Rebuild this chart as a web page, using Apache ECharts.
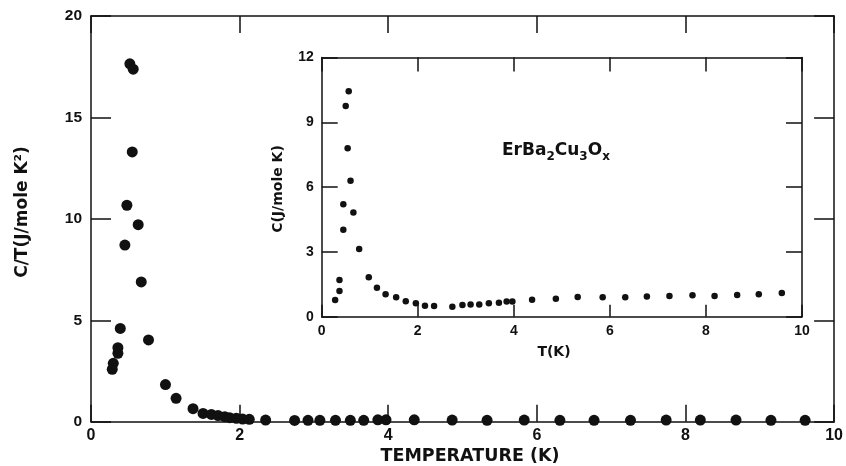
<!DOCTYPE html>
<html>
<head>
<meta charset="utf-8">
<script src="https://cdn.jsdelivr.net/npm/echarts@6/dist/echarts.min.js"></script>
<style>html,body{margin:0;padding:0;background:#fff}#c{width:846px;height:466px}</style>
</head>
<body>
<div id="c"></div>
<script>
// Main plot: C/T vs T
const mainT  = [0.286,0.30,0.362,0.362,0.394,0.456,0.483,0.523,0.555,0.568,0.635,0.676,0.774,1.002,1.145,1.373,1.508,1.62,1.71,1.80,1.866,1.956,2.04,2.13,2.35,2.74,2.92,3.08,3.29,3.49,3.67,3.86,3.97,4.35,4.86,5.33,5.83,6.31,6.77,7.26,7.74,8.20,8.68,9.15,9.61];
const mainCT = [2.58,2.88,3.37,3.65,4.60,8.71,10.67,17.64,13.30,17.38,9.71,6.89,4.03,1.83,1.15,0.64,0.41,0.36,0.30,0.25,0.20,0.17,0.13,0.12,0.08,0.06,0.07,0.07,0.07,0.07,0.07,0.09,0.09,0.09,0.08,0.07,0.08,0.07,0.07,0.07,0.08,0.08,0.08,0.07,0.07];
// Inset: C vs T
const insetT = [0.28,0.37,0.37,0.45,0.45,0.50,0.54,0.5625,0.60,0.66,0.78,0.98,1.15,1.33,1.55,1.75,1.96,2.15,2.34,2.72,2.93,3.10,3.28,3.48,3.69,3.85,3.97,4.38,4.875,5.33,5.85,6.32,6.77,7.24,7.72,8.18,8.65,9.10,9.58];
const insetC = [0.77,1.19,1.70,4.02,5.21,9.75,7.80,10.44,6.29,4.82,3.14,1.83,1.34,1.04,0.90,0.71,0.62,0.51,0.50,0.46,0.54,0.56,0.57,0.62,0.65,0.70,0.70,0.79,0.83,0.91,0.90,0.90,0.93,0.96,0.99,0.96,1.01,1.04,1.10];
const mainXTicks = [0,2,4,6,8,10];
const mainYTicks = [0,5,10,15,20];
const insetXTicks = [0,2,4,6,8,10];
const insetYTicks = [0,3,6,9,12];

const INK = '#111';
const tickFont = "'Liberation Sans', Arial, sans-serif";
const nameFont = "'DejaVu Sans', sans-serif";

function axis(opts) {
  return Object.assign({
    type: 'value',
    axisLine: {show: true, onZero: false, lineStyle: {color: INK, width: 1.5}},
    splitLine: {show: false},
    axisTick: {show: true, inside: true, length: 17, lineStyle: {color: INK, width: 1.5}},
    axisLabel: {show: false}
  }, opts);
}
function lbl(size, margin) {
  return {show: true, color: INK, fontFamily: tickFont, fontWeight: 'bold', fontSize: size, margin: margin, showMinLabel: true, showMaxLabel: true};
}

const chart = echarts.init(document.getElementById('c'), null, {renderer: 'canvas'});
chart.setOption({
  backgroundColor: '#fff',
  animation: false,
  grid: [
    {left: 91, top: 16, width: 745, height: 405.7},
    {left: 321.7, top: 57.5, width: 480.3, height: 259.2}
  ],
  xAxis: [
    axis({gridIndex: 0, position: 'bottom', min: mainXTicks[0], max: mainXTicks[mainXTicks.length-1], interval: 2, axisLabel: lbl(16, 6)}),
    axis({gridIndex: 0, position: 'top', min: 0, max: 10, interval: 2}),
    axis({gridIndex: 1, position: 'bottom', min: insetXTicks[0], max: insetXTicks[insetXTicks.length-1], interval: 2, axisLabel: lbl(14, 7),
          axisTick: {show: true, inside: true, length: 12, lineStyle: {color: INK, width: 1.5}}}),
    axis({gridIndex: 1, position: 'top', min: 0, max: 10, interval: 2,
          axisTick: {show: true, inside: true, length: 14, lineStyle: {color: INK, width: 1.5}}})
  ],
  yAxis: [
    axis({gridIndex: 0, position: 'left', min: mainYTicks[0], max: mainYTicks[mainYTicks.length-1], interval: 5, axisLabel: lbl(15.5, 9),
          axisTick: {show: true, inside: true, length: 20, lineStyle: {color: INK, width: 1.5}}}),
    axis({gridIndex: 0, position: 'right', min: 0, max: 20, interval: 5,
          axisTick: {show: true, inside: true, length: 20, lineStyle: {color: INK, width: 1.5}}}),
    axis({gridIndex: 1, position: 'left', min: insetYTicks[0], max: insetYTicks[insetYTicks.length-1], interval: 3, axisLabel: lbl(14, 8),
          axisTick: {show: true, inside: true, length: 16, lineStyle: {color: INK, width: 1.5}}}),
    axis({gridIndex: 1, position: 'right', min: 0, max: 12, interval: 3,
          axisTick: {show: true, inside: true, length: 16, lineStyle: {color: INK, width: 1.5}}})
  ],
  series: [
    {type: 'scatter', xAxisIndex: 0, yAxisIndex: 0, clip: false, symbol: 'circle', symbolSize: 11,
     itemStyle: {color: INK, opacity: 1}, data: mainT.map((t, i) => [t, mainCT[i]])},
    {type: 'scatter', xAxisIndex: 2, yAxisIndex: 2, clip: false, symbol: 'circle', symbolSize: 6.5,
     itemStyle: {color: INK, opacity: 1}, data: insetT.map((t, i) => [t, insetC[i]])}
  ],
  graphic: [
    {type: 'text', x: 23, y: 212, rotation: Math.PI / 2,
     style: {text: 'C/T(J/mole K²)', fill: INK, fontFamily: nameFont, fontWeight: 'bold', fontSize: 17, align: 'center', verticalAlign: 'middle'}},
    {type: 'text', x: 470, y: 456,
     style: {text: 'TEMPERATURE (K)', fill: INK, fontFamily: nameFont, fontWeight: 'bold', fontSize: 17.5, align: 'center', verticalAlign: 'middle'}},
    {type: 'text', x: 278, y: 189, rotation: Math.PI / 2,
     style: {text: 'C(J/mole K)', fill: INK, fontFamily: nameFont, fontWeight: 'bold', fontSize: 14, align: 'center', verticalAlign: 'middle'}},
    {type: 'text', x: 554, y: 352,
     style: {text: 'T(K)', fill: INK, fontFamily: nameFont, fontWeight: 'bold', fontSize: 14, align: 'center', verticalAlign: 'middle'}},
    {type: 'text', x: 502, y: 151,
     style: {text: '{n|ErBa}{s|2}{n|Cu}{s|3}{n|O}{s|x}', fill: INK, align: 'left', verticalAlign: 'middle',
       rich: {
         n: {fontFamily: nameFont, fontWeight: 'bold', fontSize: 17, lineHeight: 22, fill: INK},
         s: {fontFamily: nameFont, fontWeight: 'bold', fontSize: 12, lineHeight: 22, padding: [11, 0, 0, 0], fill: INK}
       }}}
  ]
});
</script>
</body>
</html>
